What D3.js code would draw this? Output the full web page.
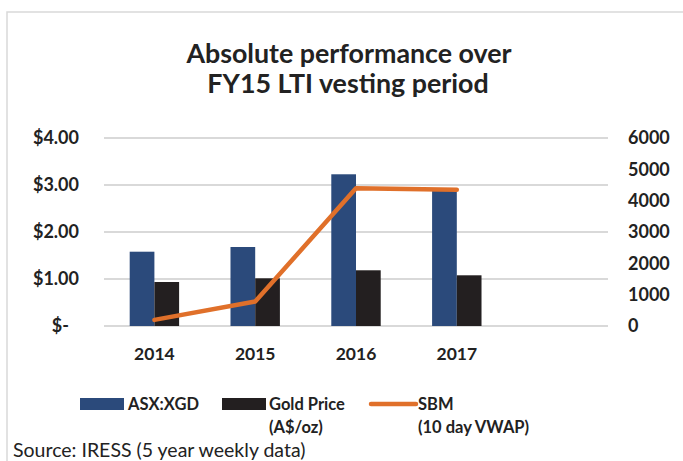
<!DOCTYPE html>
<html>
<head>
<meta charset="utf-8">
<script src="https://cdn.jsdelivr.net/npm/d3@7"></script>
<style>
  body { margin: 0; background: #fff; }
  svg { display: block; font-family: Lato, "Open Sans", sans-serif; }
</style>
</head>
<body>
<svg width="683" height="461"></svg>
<script>
// values
var years = ["2014", "2015", "2016", "2017", ""];
var xgd = [2371, 2521, 4842, 4340];      // ASX:XGD (right axis)
var gold = [1404, 1522, 1778, 1618];     // Gold price A$/oz (right axis)
var sbm = [0.13, 0.52, 2.93, 2.90];      // SBM 10 day VWAP ($, left axis)
var leftTicks = [0, 1, 2, 3, 4];
var rightTicks = [0, 1000, 2000, 3000, 4000, 5000, 6000];

var svg = d3.select("svg"),
    margin = {top: 138, right: 75, bottom: 135, left: 104},
    width = 683 - margin.left - margin.right,
    height = 461 - margin.top - margin.bottom;

var blue = "#2b4a7b", dark = "#231f20", orange = "#e0702a", grid = "#d9d9d9", ink = "#222";

// chart border
svg.append("rect")
    .attr("x", 7).attr("y", 12)
    .attr("width", 720).attr("height", 520)
    .attr("fill", "none")
    .attr("stroke", grid)
    .attr("stroke-width", 1.5);

// title
svg.append("text")
    .attr("x", 349).attr("y", 63)
    .attr("text-anchor", "middle")
    .attr("font-size", 26.8).attr("font-weight", "bold").attr("fill", ink)
    .text("Absolute performance over");
svg.append("text")
    .attr("x", 348).attr("y", 93)
    .attr("text-anchor", "middle")
    .attr("font-size", 26.8).attr("font-weight", "bold").attr("fill", ink)
    .text("FY15 LTI vesting period");

var g = svg.append("g")
    .attr("transform", "translate(" + margin.left + "," + margin.top + ")");

var x0 = d3.scaleBand().domain(years).range([0, width]).padding(0),
    x1 = d3.scaleBand().domain(["xgd", "gold"]).range([0, x0.bandwidth()])
           .paddingInner(0).paddingOuter(1.04),
    yL = d3.scaleLinear().domain([0, 4]).range([height, 0]),
    yR = d3.scaleLinear().domain([0, 6000]).range([height, 0]);

// gridlines
g.selectAll(".grid")
    .data(leftTicks)
  .enter().append("line")
    .attr("class", "grid")
    .attr("x1", 0).attr("x2", width)
    .attr("y1", function(d) { return yL(d); })
    .attr("y2", function(d) { return yL(d); })
    .attr("stroke", grid)
    .attr("stroke-width", 2);

// bars
var groups = g.selectAll(".yr")
    .data(xgd.map(function(v, i) { return {year: years[i], xgd: v, gold: gold[i]}; }))
  .enter().append("g")
    .attr("transform", function(d) { return "translate(" + x0(d.year) + ",0)"; });

groups.selectAll("rect")
    .data(function(d) { return [{k: "xgd", v: d.xgd}, {k: "gold", v: d.gold}]; })
  .enter().append("rect")
    .attr("x", function(d) { return x1(d.k); })
    .attr("y", function(d) { return yR(d.v); })
    .attr("width", x1.bandwidth())
    .attr("height", function(d) { return height - yR(d.v); })
    .attr("fill", function(d) { return d.k == "xgd" ? blue : dark; });

// SBM line
var line = d3.line()
    .x(function(d, i) { return x0(years[i]) + x0.bandwidth() / 2; })
    .y(function(d) { return yL(d); });

g.append("path")
    .datum(sbm)
    .attr("d", line)
    .attr("fill", "none")
    .attr("stroke", orange)
    .attr("stroke-width", 4.5)
    .attr("stroke-linecap", "round")
    .attr("stroke-linejoin", "round");

// axes
var axL = g.append("g")
    .call(d3.axisLeft(yL).tickValues(leftTicks).tickSize(0).tickPadding(25)
      .tickFormat(function(d) { return d === 0 ? "$-" : "$" + d.toFixed(2); }));
axL.select(".domain").remove();
axL.selectAll("text")
    .attr("font-size", 18).attr("font-weight", "bold").attr("fill", ink)
    .attr("font-family", "Lato")
    .attr("dx", function(d) { return d === 0 ? -10 : 0; });

var axR = g.append("g")
    .attr("transform", "translate(" + width + ",0)")
    .call(d3.axisRight(yR).tickValues(rightTicks).tickSize(0).tickPadding(20)
      .tickFormat(d3.format("d")));
axR.select(".domain").remove();
axR.selectAll("text")
    .attr("font-size", 18).attr("font-weight", "bold").attr("fill", ink)
    .attr("font-family", "Lato");

var axB = g.append("g")
    .attr("transform", "translate(0," + height + ")")
    .call(d3.axisBottom(x0).tickSize(0).tickPadding(22));
axB.select(".domain").remove();
axB.selectAll("text")
    .attr("font-size", 17.5).attr("font-weight", "bold").attr("fill", ink)
    .attr("font-family", "Lato");

// legend
var leg = svg.append("g").attr("font-size", 16.5).attr("font-weight", "bold").attr("fill", ink);
leg.append("rect").attr("x", 80).attr("y", 398).attr("width", 44).attr("height", 12).attr("fill", blue);
leg.append("text").attr("x", 128).attr("y", 410).text("ASX:XGD");
leg.append("rect").attr("x", 222).attr("y", 398).attr("width", 44).attr("height", 12).attr("fill", dark);
leg.append("text").attr("x", 269).attr("y", 410).text("Gold Price");
leg.append("text").attr("x", 269).attr("y", 433).text("(A$/oz)");
leg.append("line").attr("x1", 371).attr("x2", 416).attr("y1", 404).attr("y2", 404)
    .attr("stroke", orange).attr("stroke-width", 4.5).attr("stroke-linecap", "round");
leg.append("text").attr("x", 418).attr("y", 410).text("SBM");
leg.append("text").attr("x", 418).attr("y", 433).text("(10 day VWAP)");

// source note
svg.append("text")
    .attr("x", 13).attr("y", 456.5)
    .attr("font-size", 19.5).attr("fill", ink)
    .text("Source: IRESS (5 year weekly data)");
</script>
</body>
</html>
